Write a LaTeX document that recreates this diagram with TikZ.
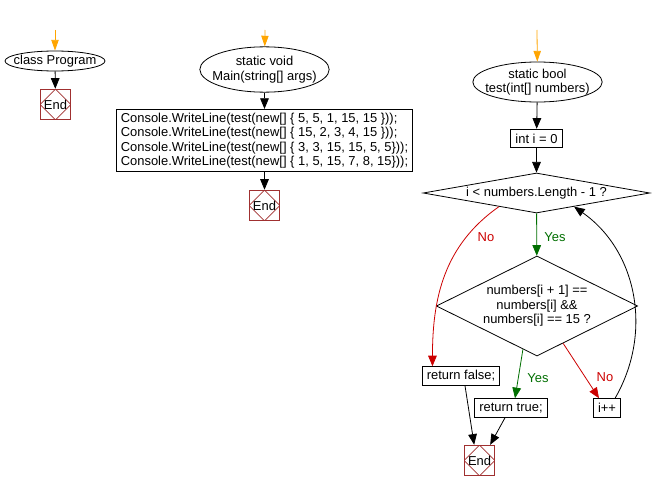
\documentclass[tikz,border=0pt]{standalone}
\usepackage{fontspec}
\setmainfont{Liberation Sans}
\usetikzlibrary{shapes.geometric,arrows.meta}
\definecolor{flowred}{RGB}{204,0,0}
\definecolor{flowgreen}{RGB}{0,110,0}
\definecolor{flowbrown}{RGB}{160,48,48}
\definecolor{floworange}{RGB}{255,165,0}
\begin{document}
\begin{tikzpicture}[
  x=0.75pt, y=-0.75pt,
  font=\fontsize{9.7}{10.9}\selectfont,
  line width=0.6pt,
  >={Triangle[length=8pt,width=6.5pt]},
  startnode/.style={draw, ellipse, align=center, inner sep=-5pt},
  box/.style={draw, align=left, inner xsep=3.5pt, inner ysep=2.5pt, minimum height=14pt},
  cond/.style={draw, diamond, align=center, inner xsep=0pt, inner ysep=-12pt},
  endnode/.style={draw=flowbrown, minimum size=23pt, inner sep=0pt,
    path picture={\draw[flowbrown] (path picture bounding box.north) -- (path picture bounding box.east)
      -- (path picture bounding box.south) -- (path picture bounding box.west) -- cycle;}},
  entry/.style={-{Triangle[length=8pt,width=5.5pt]}, draw=floworange},
  yes/.style={->, draw=flowgreen},
  no/.style={->, draw=flowred}
]
\useasboundingbox (0,0) rectangle (652,492);

\coordinate (in1) at (55,30);
\coordinate (in2) at (265,30);
\coordinate (in3) at (537,30);

\node[startnode, minimum width=75pt, minimum height=15pt] (cls) at (55,61) {class Program};
\node[endnode] (end1) at (55.5,104.5) {End};

\node[startnode, minimum width=97pt, minimum height=34pt] (main) at (264.5,69.5) {static void\\Main(string[] args)};
\node[box] (calls) at (264.5,140.5) {Console.WriteLine(test(new[] \{ 5, 5, 1, 15, 15 \}));\\
  Console.WriteLine(test(new[] \{ 15, 2, 3, 4, 15 \}));\\
  Console.WriteLine(test(new[] \{ 3, 3, 15, 15, 5, 5\}));\\
  Console.WriteLine(test(new[] \{ 1, 5, 15, 7, 8, 15\}));};
\node[endnode] (end2) at (264.5,205.5) {End};

\node[startnode, minimum width=97pt, minimum height=30pt] (test) at (537.5,82) {static bool\\test(int[] numbers)};
\node[box] (init) at (536.5,138.5) {int i = 0};
\node[cond, aspect=5.67, minimum width=170pt, minimum height=30pt] (d1) at (536.5,193) {i < numbers.Length - 1 ?};
\node[cond, aspect=2, minimum width=151pt, minimum height=75pt] (d2) at (537,306) {numbers[i + 1] ==\\numbers[i] \&\&\\numbers[i] == 15 ?};
\node[box] (rfalse) at (461,376) {return false;};
\node[box] (rtrue) at (511,408) {return true;};
\node[box] (ipp) at (607,408) {i++};
\node[endnode] (end3) at (479.5,460.5) {End};

\node[text=flowred] (no1) at (486,237) {No};
\node[text=flowgreen] (yes1) at (555,237) {Yes};
\node[text=flowgreen] (yes2) at (538,378) {Yes};
\node[text=flowred] (no2) at (605,377) {No};

\draw[entry] (in1) -- (cls);
\draw[->] (cls) -- (end1);
\draw[entry] (in2) -- (main);
\draw[->] (main) -- (calls);
\draw[->] (calls) -- (end2);
\draw[entry] (in3) -- (test);
\draw[->] (test) -- (init);
\draw[->] (init) -- (d1);
\draw[yes] (d1) -- (d2);
\draw[no] (d1.200) to[out=215, in=90] ([xshift=8pt]rfalse.north west);
\draw[yes] (d2.252) -- ([xshift=3pt]rtrue.north);
\draw[no] (d2.-55) -- ([xshift=-6pt]ipp.north);
\draw[->] ([xshift=-4.5pt]ipp.north east) to[out=60, in=-35] (d1.340);
\draw[->] ([xshift=3pt]rfalse.south) -- ([xshift=-4pt]end3.north);
\draw[->] ([xshift=-4.5pt]rtrue.south) -- ([xshift=8pt]end3.north);
\end{tikzpicture}
\end{document}
